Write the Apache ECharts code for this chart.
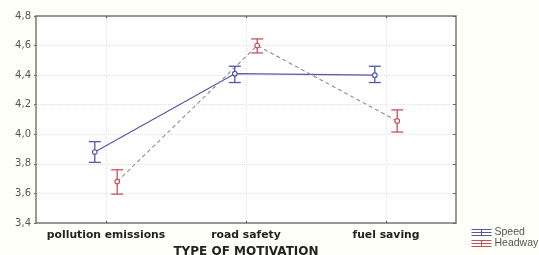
<!DOCTYPE html>
<html><head><meta charset="utf-8">
<script src="https://cdn.jsdelivr.net/npm/echarts@6/dist/echarts.min.js"></script>
<style>html,body{margin:0;padding:0;background:#fffffa}#c{width:539px;height:255px}</style>
</head><body><div id="c"></div>
<script>
const categories = ['pollution emissions', 'road safety', 'fuel saving'];
const speedMean = [3.88, 4.41, 4.40];
const speedLow = [3.81, 4.35, 4.35];
const speedHigh = [3.95, 4.46, 4.46];
const headwayMean = [3.68, 4.60, 4.09];
const headwayLow = [3.595, 4.55, 4.015];
const headwayHigh = [3.76, 4.645, 4.165];
const yTicks = [3.4, 3.6, 3.8, 4.0, 4.2, 4.4, 4.6, 4.8];

const OFF = 0.08;
const BLUE = '#5656a6', RED = '#c8505e';
const chart = echarts.init(document.getElementById('c'));

function pts(mean, lo, hi, dx) {
  return mean.map((m, i) => [i + dx, m, lo[i], hi[i]]);
}
function errSeries(name, data, color) {
  return {
    name, type: 'custom', xAxisIndex: 1, yAxisIndex: 0, z: 5,
    data,
    renderItem(params, api) {
      const x = api.value(0);
      const c = api.coord([x, api.value(1)]);
      const lo = api.coord([x, api.value(2)]);
      const hi = api.coord([x, api.value(3)]);
      const w = 6;
      const st = { stroke: color, lineWidth: 1.3 };
      return { type: 'group', children: [
        { type: 'line', shape: { x1: c[0], y1: lo[1], x2: c[0], y2: hi[1] }, style: st },
        { type: 'line', shape: { x1: c[0] - w, y1: lo[1], x2: c[0] + w, y2: lo[1] }, style: st },
        { type: 'line', shape: { x1: c[0] - w, y1: hi[1], x2: c[0] + w, y2: hi[1] }, style: st },
        { type: 'circle', shape: { cx: c[0], cy: c[1], r: 2.3 }, style: { fill: '#fff', stroke: color, lineWidth: 1.2 }, z2: 10 }
      ]};
    }
  };
}
const legendIcon = 'path://M0,0 L20,0 M0,3 L20,3 M0,6 L20,6 M10,0 L10,6';
const axisLineStyle = { color: '#7a7a7a', width: 1.5 };

chart.setOption({
  backgroundColor: '#fffffa',
  animation: false,
  grid: { left: 36, right: 83, top: 16, bottom: 32, show: true, backgroundColor: '#ffffff', borderWidth: 0,
    containLabel: false, outerBoundsMode: 'none' },
  legend: {
    left: 466, top: 222, orient: 'vertical', itemGap: 0, itemWidth: 20, itemHeight: 10,
    textStyle: { fontFamily: 'Liberation Sans', fontSize: 10.5, color: '#555', padding: [0, 0, 0, -2] },
    data: [
      { name: 'Speed', icon: legendIcon, itemStyle: { color: 'transparent', borderColor: BLUE, borderWidth: 1 } },
      { name: 'Headway', icon: legendIcon, itemStyle: { color: 'transparent', borderColor: RED, borderWidth: 1 } }
    ]
  },
  xAxis: [
    { type: 'category', data: categories, position: 'bottom', boundaryGap: true,
      axisLine: { onZero: false, lineStyle: axisLineStyle },
      axisTick: { show: true, inside: true, alignWithLabel: true, interval: 0, length: 2, lineStyle: { color: '#555' } },
      axisLabel: { interval: 0, hideOverlap: false, fontFamily: 'DejaVu Sans', fontWeight: 'bold', fontSize: 10.8, color: '#222', margin: 7 },
      splitLine: { show: true, interval: 0, alignWithLabel: true, lineStyle: { color: '#e2e2e2', type: 'dotted' } },
      name: 'TYPE OF MOTIVATION', nameLocation: 'middle', nameGap: 23,
      nameTextStyle: { fontFamily: 'DejaVu Sans', fontWeight: 'bold', fontSize: 12, color: '#222' } },
    { type: 'value', min: -0.5, max: 2.5, show: false },
    { type: 'category', data: categories, position: 'top', boundaryGap: true,
      axisLine: { onZero: false, lineStyle: axisLineStyle },
      axisTick: { show: true, inside: true, alignWithLabel: true, interval: 0, length: 2, lineStyle: { color: '#555' } },
      axisLabel: { show: false }, splitLine: { show: false } }
  ],
  yAxis: [
    { type: 'value', min: yTicks[0], max: yTicks[yTicks.length - 1], interval: 0.2, position: 'left',
      axisLine: { show: true, onZero: false, lineStyle: axisLineStyle },
      axisTick: { show: true, length: 2, lineStyle: { color: '#666' } },
      axisLabel: { fontFamily: 'DejaVu Sans', fontSize: 10, color: '#555', margin: 5,
        formatter: v => v.toFixed(1).replace('.', ',') },
      splitLine: { show: true, lineStyle: { color: '#e2e2e2', type: 'dotted' } } },
    { type: 'value', min: yTicks[0], max: yTicks[yTicks.length - 1], interval: 0.2, position: 'right',
      axisLine: { show: true, onZero: false, lineStyle: axisLineStyle },
      axisTick: { show: true, inside: true, length: 3, lineStyle: { color: '#666' } },
      axisLabel: { show: false }, splitLine: { show: false } }
  ],
  series: [
    { name: 'Speed', type: 'line', xAxisIndex: 1, yAxisIndex: 0, data: speedMean.map((m, i) => [i - OFF, m]),
      symbol: 'none', lineStyle: { color: BLUE, width: 1.1 }, itemStyle: { color: BLUE } },
    { name: 'Headway', type: 'line', xAxisIndex: 1, yAxisIndex: 0, data: headwayMean.map((m, i) => [i + OFF, m]),
      symbol: 'none', lineStyle: { color: '#8e8e8e', width: 1.1, type: [4, 3] }, itemStyle: { color: RED } },
    errSeries('Speed', pts(speedMean, speedLow, speedHigh, -OFF), BLUE),
    errSeries('Headway', pts(headwayMean, headwayLow, headwayHigh, OFF), RED)
  ]
});
</script></body></html>
